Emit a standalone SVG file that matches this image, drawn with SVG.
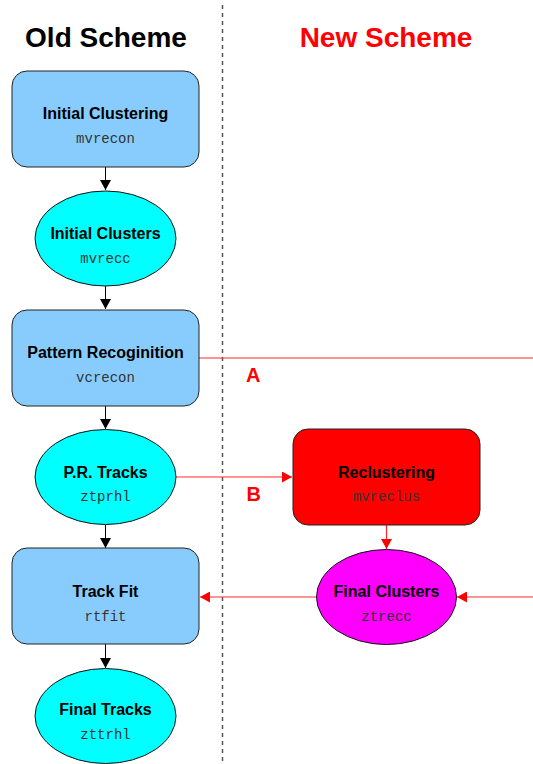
<svg xmlns="http://www.w3.org/2000/svg" width="533" height="764" viewBox="0 0 533 764">
<defs>
<marker id="ab" markerWidth="11" markerHeight="11" refX="10" refY="5.5" orient="auto" markerUnits="userSpaceOnUse"><path d="M0,0 L10,5.5 L0,11 Z" fill="#000"/></marker>
<marker id="ar" markerWidth="11" markerHeight="11" refX="10" refY="5.5" orient="auto" markerUnits="userSpaceOnUse"><path d="M0,0 L10,5.5 L0,11 Z" fill="#ff0000"/></marker>
</defs>
<style>
.box{fill:#88ccfe;stroke:#222;stroke-width:1}
.ell{fill:#00ffff;stroke:#111;stroke-width:1}
.t{font-family:"Liberation Sans",Arial,sans-serif;font-weight:bold;font-size:16px;text-anchor:middle;fill:#000}
.m{font-family:"Liberation Mono","Courier New",monospace;font-size:14px;text-anchor:middle;fill:#333}
.h{font-family:"Liberation Sans",Arial,sans-serif;font-weight:bold;font-size:28px;text-anchor:middle}
.bl{stroke:#000;stroke-width:1;fill:none;marker-end:url(#ab)}
.rl{stroke:#ff2a2a;stroke-width:1.2;fill:none}
.lab{font-family:"Liberation Sans",Arial,sans-serif;font-weight:bold;font-size:20px;fill:#ff0000}
</style>
<line x1="222.5" y1="5" x2="222.5" y2="764" stroke="#555" stroke-width="1.5" stroke-dasharray="4,4"/>
<text class="h" x="106" y="47" fill="#000">Old Scheme</text>
<text class="h" x="386" y="47" fill="#ff0000">New Scheme</text>
<g id="connectors">
<line class="bl" x1="105.5" y1="167" x2="105.5" y2="190"/>
<line class="bl" x1="105.5" y1="286" x2="105.5" y2="309"/>
<line class="bl" x1="105.5" y1="406" x2="105.5" y2="429"/>
<line class="bl" x1="105.5" y1="525" x2="105.5" y2="548"/>
<line class="bl" x1="105.5" y1="644" x2="105.5" y2="668"/>
<line class="rl" x1="199" y1="358" x2="533" y2="358"/>
<line class="rl" x1="176" y1="477" x2="292" y2="477" marker-end="url(#ar)"/>
<line class="rl" x1="386.5" y1="525" x2="386.5" y2="549" marker-end="url(#ar)"/>
<line class="rl" x1="533" y1="597" x2="457" y2="597" marker-end="url(#ar)"/>
<line class="rl" x1="316" y1="597" x2="200" y2="597" marker-end="url(#ar)"/>
<text class="lab" x="246" y="382">A</text>
<text class="lab" x="246.5" y="501">B</text>
</g>
<g id="initial-clustering">
<rect class="box" x="12" y="71" width="187" height="96" rx="15"/>
<text class="t" x="105.5" y="119">Initial Clustering</text>
<text class="m" x="105.5" y="143">mvrecon</text>
</g>
<g id="initial-clusters">
<ellipse class="ell" cx="105.5" cy="238.5" rx="70.5" ry="47.5"/>
<text class="t" x="105.5" y="239">Initial Clusters</text>
<text class="m" x="105.5" y="263">mvrecc</text>
</g>
<g id="pattern-recognition">
<rect class="box" x="12" y="310" width="187" height="96" rx="15"/>
<text class="t" x="105.5" y="358">Pattern Recoginition</text>
<text class="m" x="105.5" y="382">vcrecon</text>
</g>
<g id="pr-tracks">
<ellipse class="ell" cx="105.5" cy="477" rx="70.5" ry="47.5"/>
<text class="t" x="105.5" y="478">P.R. Tracks</text>
<text class="m" x="105.5" y="501">ztprhl</text>
</g>
<g id="track-fit">
<rect class="box" x="12" y="548" width="187" height="96" rx="15"/>
<text class="t" x="105.5" y="597">Track Fit</text>
<text class="m" x="105.5" y="621">rtfit</text>
</g>
<g id="final-tracks">
<ellipse class="ell" cx="105.5" cy="716" rx="70.5" ry="47.5"/>
<text class="t" x="105.5" y="715">Final Tracks</text>
<text class="m" x="105.5" y="739">zttrhl</text>
</g>
<g id="reclustering">
<rect x="293" y="429" width="187" height="96" rx="15" fill="#ff0000" stroke="#222" stroke-width="1"/>
<text class="t" x="386.5" y="478">Reclustering</text>
<text class="m" x="386.5" y="501">mvreclus</text>
</g>
<g id="final-clusters">
<ellipse cx="386.5" cy="597" rx="70" ry="47.5" fill="#ff00ff" stroke="#111" stroke-width="1"/>
<text class="t" x="386.5" y="597">Final Clusters</text>
<text class="m" x="386.5" y="621">ztrecc</text>
</g>
</svg>
